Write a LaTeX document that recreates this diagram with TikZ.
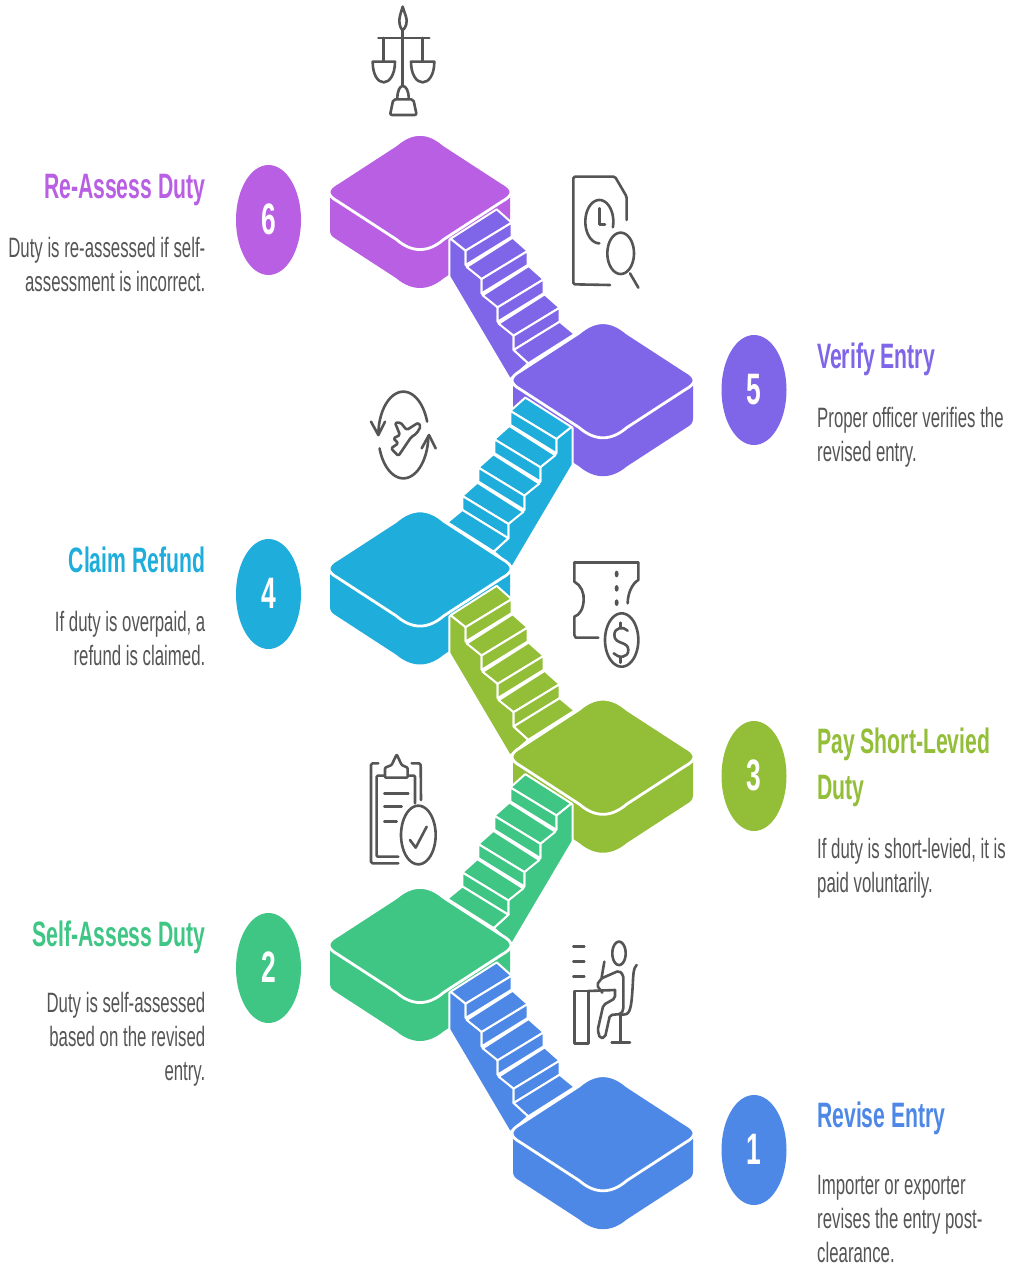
\documentclass[tikz,border=0pt]{standalone}
\usepackage{fontspec}
\newfontfamily\lblfont[FakeStretch=0.6]{Liberation Sans}
\definecolor{cA}{HTML}{4E88E6}
\definecolor{cB}{HTML}{3FC685}
\definecolor{cC}{HTML}{93BE38}
\definecolor{cD}{HTML}{1FADDC}
\definecolor{cE}{HTML}{7F66E8}
\definecolor{cF}{HTML}{B85FE3}
\definecolor{ink}{HTML}{555555}
\tikzset{
  numdisc/.style={ellipse,minimum width=65pt,minimum height=110pt,inner sep=0pt,text=white,font=\lblfont\bfseries\fontsize{44}{44}\selectfont},
  ttl/.style={inner sep=0pt,font=\lblfont\bfseries\fontsize{35.3}{46}\selectfont},
  bodytxt/.style={inner sep=0pt,text=ink,font=\lblfont\fontsize{28}{34}\selectfont},
  icon/.style={draw=ink,line width=2.6pt,line cap=round,line join=round},
  white edge/.style={draw=white,line width=2.8pt,line join=round},
  stair edge/.style={draw=white,line width=2pt,line join=round},
  zoomed/.style={x=0.33333pt,y=-0.33333pt}
}
\usetikzlibrary{shapes.geometric}
\newcommand{\platside}[3]{\begin{scope}[shift={(#1,#2)}]
 \fill[#3] (-90,-5) -- (90,-5) -- (90,38) .. controls (90,43) and (88,44.5) .. (84,47) -- (24,86) .. controls (8,99.3) and (-8,99.3) .. (-24,86) -- (-84,47) .. controls (-88,44.5) and (-90,43) .. (-90,38) -- cycle;
\end{scope}}
\newcommand{\plattop}[3]{\begin{scope}[shift={(#1,#2)}]
 \filldraw[fill=#3,white edge] (-24,-47.2) .. controls (-8,-61) and (8,-61) .. (24,-47.2) -- (82,-9.5) .. controls (94,-3) and (94,3) .. (82,9.5) -- (24,47.2) .. controls (8,61) and (-8,61) .. (-24,47.2) -- (-82,9.5) .. controls (-94,3) and (-94,-3) .. (-82,-9.5) -- cycle;
\end{scope}}
% x origin, y origin, x unit, colour
\newcommand{\stairs}[4]{\begin{scope}[shift={(#1,#2)},zoomed,x=#3]
 \filldraw[fill=#4,stair edge] (388,330) -- (388,440) -- (570,748) -- (625,700) -- (581,660) -- (581,617) -- (533,575) -- (533,532) -- (485,490) -- (485,447) -- (437,405) -- (437,362) -- (392,326) -- cycle;
 \foreach \i in {0,1,2,3}{
  \begin{scope}[shift={(48*\i,85*\i)}]
   \filldraw[fill=#4,stair edge] (392,326) -- (437,362) -- (575,278) -- (530,238) -- cycle;
   \filldraw[fill=#4,stair edge] (437,362) -- (437,405) -- (575,320) -- (575,278) -- cycle;
  \end{scope}}
 \filldraw[fill=#4,stair edge] (581,660) -- (625,700) -- (764,612) -- (719,575) -- cycle;
\end{scope}}
\newcommand{\earc}[7][]{\draw[icon,#1] plot[domain=#6:#7,samples=48,smooth] ({#2+#4*cos(\x)},{#3+#5*sin(\x)});}
\begin{document}
\begin{tikzpicture}[x=1pt,y=-1pt]
\useasboundingbox (0,0) rectangle (1013,1266);
\fill[white] (0,0) rectangle (1013,1266);
% platform sides
\platside{420}{192}{cF}
\platside{603}{380.25}{cE}
\platside{420}{568.5}{cD}
\platside{603}{756.75}{cC}
\platside{420}{945}{cB}
\platside{603}{1133.25}{cA}
% stairs
\stairs{320}{130}{0.33333pt}{cE}
\stairs{702}{318.25}{-0.33333pt}{cD}
\stairs{320}{506.5}{0.33333pt}{cC}
\stairs{702}{694.75}{-0.33333pt}{cB}
\stairs{320}{883}{0.33333pt}{cA}
% platform tops
\plattop{420}{192}{cF}
\plattop{603}{380.25}{cE}
\plattop{420}{568.5}{cD}
\plattop{603}{756.75}{cC}
\plattop{420}{945}{cB}
\plattop{603}{1133.25}{cA}
% discs
\node[numdisc,fill=cF] (n6) at (268.5,220) {\raisebox{1pt}{6}};
\node[numdisc,fill=cE] (n5) at (754,390) {\raisebox{1pt}{5}};
\node[numdisc,fill=cD] (n4) at (268.5,594) {\raisebox{1pt}{4}};
\node[numdisc,fill=cC] (n3) at (754,776) {\raisebox{1pt}{3}};
\node[numdisc,fill=cB] (n2) at (268.5,968) {\raisebox{1pt}{2}};
\node[numdisc,fill=cA] (n1) at (754,1150) {\raisebox{1pt}{1}};
% labels
\node[ttl,text=cF,anchor=base east] (t6) at (205.5,198) {Re-Assess Duty};
\node[bodytxt,anchor=base east,align=right] (b6) at (205.5,291) {Duty is re-assessed if self-\\assessment is incorrect.};
\node[ttl,text=cE,anchor=base west] (t5) at (817,368) {Verify Entry};
\node[bodytxt,anchor=base west,align=left] (b5) at (817,461) {Proper officer verifies the\\revised entry.};
\node[ttl,text=cD,anchor=base east] (t4) at (205.5,572) {Claim Refund};
\node[bodytxt,anchor=base east,align=right] (b4) at (205.5,665) {If duty is overpaid, a\\refund is claimed.};
\node[ttl,text=cC,anchor=base west,align=left] (t3) at (817,799) {Pay Short-Levied\\Duty};
\node[bodytxt,anchor=base west,align=left] (b3) at (817,892) {If duty is short-levied, it is\\paid voluntarily.};
\node[ttl,text=cB,anchor=base east] (t2) at (205.5,946) {Self-Assess Duty};
\node[bodytxt,anchor=base east,align=right] (b2) at (205.5,1080) {Duty is self-assessed\\based on the revised\\entry.};
\node[ttl,text=cA,anchor=base west] (t1) at (817,1127) {Revise Entry};
\node[bodytxt,anchor=base west,align=left] (b1) at (817,1262) {Importer or exporter\\revises the entry post-\\clearance.};
% scales icon
\begin{scope}[shift={(350,0)},zoomed]
 \draw[icon] (158,20) .. controls (152,40) and (148,52) .. (148,62) .. controls (148,78) and (154,88) .. (158,90) .. controls (162,88) and (170,78) .. (170,62) .. controls (170,52) and (164,40) .. (158,20) -- cycle;
 \draw[icon] (158,90) -- (158,255);
 \draw[icon] (85,114) -- (238,114);
 \draw[icon] (100,114) -- (100,185);
 \draw[icon] (218,114) -- (218,185);
 \draw[icon] (68,185) -- (135,185) .. controls (135,225) and (118,247) .. (101,247) .. controls (84,247) and (68,225) .. (68,185) -- cycle;
 \draw[icon] (183,185) -- (253,185) .. controls (253,225) and (236,247) .. (218,247) .. controls (200,247) and (183,225) .. (183,185) -- cycle;
 \draw[icon] (142,295) .. controls (142,272) and (150,258) .. (158,258) .. controls (168,258) and (176,272) .. (176,295);
 \draw[icon,rounded corners=2pt] (130,298) -- (190,298) -- (200,345) -- (120,345) -- cycle;
\end{scope}
% document + clock icon
\begin{scope}[shift={(555,165)},zoomed]
 \draw[icon,rounded corners=1.5pt] (215,165) -- (215,95) -- (180,35) -- (55,35) -- (55,358) -- (165,360);
 \earc{133}{170}{42}{65}{15}{-270}
 \draw[icon] (133,130) -- (133,178) -- (150,178);
 \earc{197}{265}{40}{62}{0}{360}
 \draw[icon] (225,325) -- (250,368);
\end{scope}
% plane icon
\begin{scope}[shift={(355,380)},zoomed]
 \earc{145}{165}{75}{130}{-18}{-180}
 \earc{145}{165}{75}{130}{162}{2}
 \draw[icon] (48,125) -- (70,165) -- (90,125);
 \draw[icon] (200,205) -- (222,165) -- (242,205);
 \draw[icon,rounded corners=1.5pt] (120,128) -- (137,128) -- (155,150) -- (190,128) -- (197,140) -- (185,160) -- (168,172) -- (130,228) -- (108,205) -- (130,190) -- (115,175) -- (135,165) -- cycle;
\end{scope}
% ticket icon
\begin{scope}[shift={(555,550)},zoomed]
 \draw[icon] (58,38) -- (250,38);
 \draw[icon] (58,38) -- (58,95) .. controls (78,105) and (88,130) .. (86,150) .. controls (85,175) and (75,195) .. (58,200) -- (58,255) -- (62,263) -- (130,263);
 \draw[icon] (250,38) -- (250,90) .. controls (232,100) and (218,130) .. (218,160);
 \fill[ink] (185,72) ellipse [x radius=6,y radius=10];
 \fill[ink] (185,115) ellipse [x radius=6,y radius=10];
 \fill[ink] (185,158) ellipse [x radius=6,y radius=10];
 \earc{200}{270}{50}{80}{0}{360}
 \draw[icon] (197,218) -- (197,232);
 \draw[icon] (197,322) -- (197,338);
 \draw[icon] (218,242) .. controls (205,228) and (178,232) .. (178,255) .. controls (178,285) and (220,272) .. (220,300) .. controls (220,325) and (190,325) .. (176,310);
\end{scope}
% clipboard icon
\begin{scope}[shift={(355,745)},zoomed]
 \draw[icon,rounded corners=1.5pt] (70,55) -- (48,55) -- (48,355) -- (130,355);
 \draw[icon,rounded corners=1.5pt] (170,55) -- (197,55) -- (198,165);
 \draw[icon,rounded corners=1pt] (88,92) -- (65,92) -- (65,335) -- (130,335);
 \draw[icon,rounded corners=1pt] (160,92) -- (180,92) -- (180,175);
 \draw[icon,rounded corners=1pt] (90,98) -- (90,68) -- (110,60) -- (125,28) -- (140,60) -- (158,68) -- (158,98) -- cycle;
 \draw[icon] (88,145) -- (160,145);
 \draw[icon] (88,185) -- (140,185);
 \draw[icon] (88,230) -- (125,230);
 \earc{190}{270}{52}{88}{0}{360}
 \draw[icon] (165,285) -- (182,308) -- (215,245);
\end{scope}
% person at desk icon
\begin{scope}[shift={(555,930)},zoomed]
 \draw[icon] (55,50) -- (88,50);
 \draw[icon] (55,95) -- (88,95);
 \draw[icon] (55,140) -- (88,140);
 \earc{192}{70}{20}{35}{0}{360}
 \draw[icon] (100,183) -- (58,183) -- (58,340) -- (100,340) -- cycle;
 \draw[icon] (100,183) -- (180,180);
 \draw[icon] (148,95) -- (140,142);
 \draw[icon,rounded corners=2pt] (140,145) -- (192,122) -- (205,135) -- (205,240) -- (198,252) -- (165,255) -- (150,322) -- (135,325) -- (128,300) -- (145,225) -- (180,205) -- (180,180);
 \draw[icon,rounded corners=2pt] (140,145) -- (125,165) -- (142,188);
 \draw[icon] (245,105) .. controls (235,115) and (235,130) .. (233,170) .. controls (230,215) and (228,245) .. (215,252) -- (198,255);
 \draw[icon] (197,255) -- (197,337);
 \draw[icon] (170,337) -- (225,337);
\end{scope}
\end{tikzpicture}
\end{document}
